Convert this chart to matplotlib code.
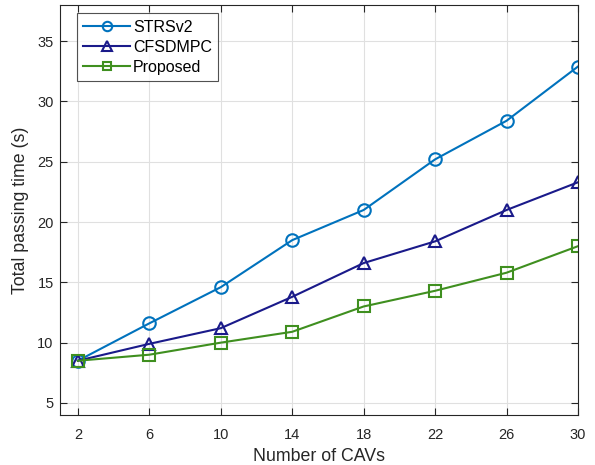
import numpy as np
import matplotlib
matplotlib.use("Agg")
import matplotlib.pyplot as plt

plt.rcParams['font.family'] = ['Liberation Sans', 'DejaVu Sans']

cavs = [2, 6, 10, 14, 18, 22, 26, 30]
strsv2 = [8.5, 11.6, 14.6, 18.5, 21.0, 25.2, 28.4, 32.9]
cfsdmpc = [8.5, 9.9, 11.2, 13.8, 16.6, 18.4, 21.0, 23.3]
proposed = [8.5, 9.0, 10.0, 10.9, 13.0, 14.3, 15.8, 18.0]
yticks = [5, 10, 15, 20, 25, 30, 35]

fig = plt.figure(figsize=(5.95, 4.65), dpi=100)
ax = fig.add_axes([60/595, 50/465, 518/595, 410/465])

ax.plot(cavs, strsv2, color='#0072BD', lw=1.5, marker='o', ms=9, mfc='none', mew=1.5, label='STRSv2')
ax.plot(cavs, cfsdmpc, color='#1A1A8A', lw=1.5, marker='^', ms=9, mfc='none', mew=1.5, label='CFSDMPC')
ax.plot(cavs, proposed, color='#3F8F1F', lw=1.5, marker='s', ms=8, mfc='none', mew=1.5, label='Proposed')

ax.set_xlim(1, 30)
ax.set_ylim(4, 38)
ax.set_xticks(cavs)
ax.set_yticks(yticks)
ax.grid(True, color='#E0E0E0', lw=0.8)
ax.set_axisbelow(True)
ax.tick_params(direction='in', top=True, right=True, labelsize=10.5, colors='#262626', length=5)
ax.tick_params(axis='x', pad=9)
ax.tick_params(axis='y', pad=4.5)
for s in ax.spines.values():
    s.set_color('#262626')
    s.set_linewidth(0.8)

ax.set_xlabel('Number of CAVs', fontsize=12.8, color='#262626', labelpad=5)
ax.set_ylabel('Total passing time (s)', fontsize=12.8, color='#262626', labelpad=6)

leg = ax.legend(loc='upper left', bbox_to_anchor=(0.033, 0.98), fontsize=11.5, fancybox=False,
                edgecolor='#262626', borderaxespad=0, handlelength=2.9, handletextpad=0.2,
                labelspacing=0.32, borderpad=0.4, markerscale=0.75)
leg.get_frame().set_linewidth(0.8)

fig.savefig('out.png', dpi=100)
